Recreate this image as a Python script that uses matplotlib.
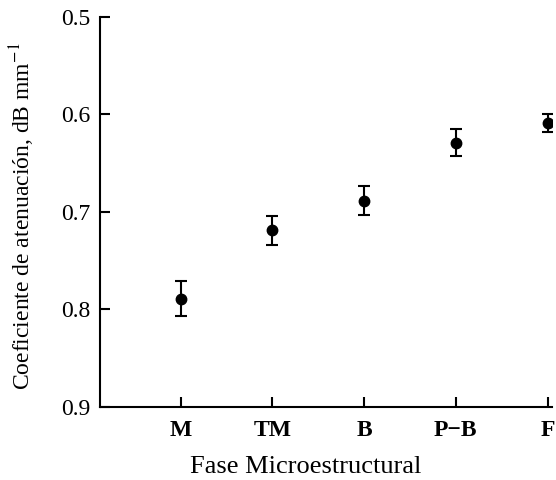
import matplotlib
matplotlib.use("Agg")
import matplotlib.pyplot as plt
import numpy as np

phases = ["M", "TM", "B", "P\u2212B", "F"]
attenuation = [0.789, 0.719, 0.689, 0.629, 0.609]
err_low = [0.018, 0.015, 0.016, 0.014, 0.009]
err_high = [0.018, 0.015, 0.014, 0.014, 0.009]
yticks = [0.5, 0.6, 0.7, 0.8, 0.9]

plt.rcParams['font.family'] = ['Liberation Serif', 'DejaVu Serif']
plt.rcParams['mathtext.fontset'] = 'stix'

fig = plt.figure(figsize=(5.56, 4.80), dpi=100)
ax = fig.add_axes([0.18, 0.152, 0.813, 0.813])

x = np.arange(1, len(phases) + 1)
ax.errorbar(x, attenuation, yerr=[err_low, err_high], fmt='o', color='black',
            markersize=7.5, elinewidth=1.5, capsize=4, capthick=1.5)

ax.set_ylim(0.9, 0.5)
ax.set_xlim(0.12, 5.05)
ax.set_yticks(yticks)
ax.set_yticklabels(["%.1f" % v for v in yticks], fontsize=17)
ax.set_xticks(x)
ax.set_xticklabels(phases, fontsize=17, fontweight='bold')

ax.spines['top'].set_visible(False)
ax.spines['right'].set_visible(False)
for s in ['left', 'bottom']:
    ax.spines[s].set_linewidth(1.5)
ax.tick_params(direction='in', length=7, width=1.5, pad=7)
ax.tick_params(axis='x', pad=9)

ax.set_xlabel("Fase Microestructural", fontsize=19)
ax.xaxis.set_label_coords(0.454, -0.125)
ax.set_ylabel("Coeficiente de atenuación, dB mm$^{-1}$", fontsize=17)
ax.yaxis.set_label_coords(-0.14, 0.49)

fig.savefig("out.png", dpi=100)
